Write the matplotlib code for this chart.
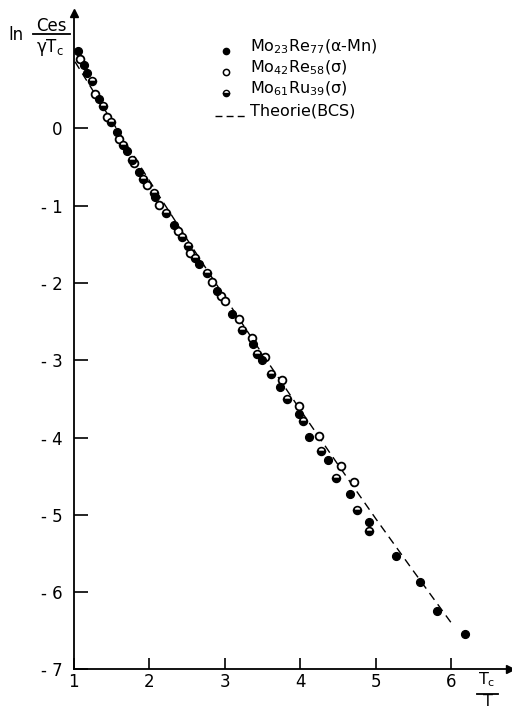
import matplotlib
matplotlib.use("Agg")
import matplotlib.pyplot as plt
from matplotlib.lines import Line2D

plt.rcParams["font.family"] = ["DejaVu Sans"]
plt.rcParams["mathtext.default"] = "regular"

# Mo23Re77 (alpha-Mn), filled circles
x_mo23 = [1.056, 1.139, 1.183, 1.337, 1.571, 1.708, 1.866, 2.074, 2.333, 2.664,
          2.894, 3.101, 3.378, 3.489, 3.728, 3.983, 4.119, 4.370, 4.657, 4.909,
          5.262, 5.587, 5.812, 6.183]
y_mo23 = [1.003, 0.821, 0.722, 0.386, -0.045, -0.291, -0.563, -0.890, -1.248, -1.757,
          -2.102, -2.400, -2.792, -2.995, -3.340, -3.697, -3.995, -4.285, -4.737, -5.087,
          -5.530, -5.876, -6.251, -6.549]

# Mo42Re58 (sigma), open circles
x_mo42 = [1.090, 1.288, 1.447, 1.598, 1.796, 1.968, 2.135, 2.378, 2.545, 2.828,
          2.947, 3.008, 3.185, 3.357, 3.537, 3.754, 3.979, 4.243, 4.542, 4.714]
y_mo42 = [0.895, 0.442, 0.153, -0.140, -0.450, -0.735, -0.994, -1.326, -1.614, -1.982,
          -2.163, -2.232, -2.464, -2.706, -2.952, -3.250, -3.586, -3.978, -4.375, -4.577]

# Mo61Ru39 (sigma), half-filled circles
x_mo61 = [1.245, 1.390, 1.500, 1.659, 1.770, 1.923, 2.065, 2.224, 2.431, 2.515,
          2.607, 2.762, 3.235, 3.434, 3.608, 3.828, 4.040, 4.278, 4.479, 4.746, 4.911]
y_mo61 = [0.611, 0.291, 0.084, -0.210, -0.408, -0.657, -0.838, -1.089, -1.400, -1.520,
          -1.679, -1.873, -2.607, -2.921, -3.172, -3.499, -3.784, -4.172, -4.530, -4.935, -5.207]

# BCS theory curve
x_bcs = [1.02, 1.5, 2.0, 2.5, 3.0, 3.5, 4.0, 4.5, 5.0, 5.5, 6.0]
y_bcs = [0.864, 0.107, -0.67, -1.43, -2.18, -2.92, -3.64, -4.35, -5.05, -5.73, -6.40]

x_ticks = [1, 2, 3, 4, 5, 6]
x_ticklabels = ["1", "2", "3", "4", "5", "6"]
y_ticks = [0, -1, -2, -3, -4, -5, -6, -7]
y_ticklabels = ["0", "- 1", "- 2", "- 3", "- 4", "- 5", "- 6", "- 7"]

legend_labels = [r"Mo$_{23}$Re$_{77}$($\alpha$-Mn)",
                 r"Mo$_{42}$Re$_{58}$($\sigma$)",
                 r"Mo$_{61}$Ru$_{39}$($\sigma$)",
                 "Theorie(BCS)"]

W, H = 512, 710
fig = plt.figure(figsize=(W / 100, H / 100), dpi=100)


def fx(px):
    return px / W


def fy(py):
    return 1 - py / H


ax = fig.add_axes([fx(73.5), fy(669.3), (510 - 73.5) / W, (669.3 - 13) / H])
ax.set_xlim(1, 1 + (510 - 73.5) / 75.56)
ax.set_ylim(-7, -7 + (669.3 - 13) / 77.26)

for s in ["top", "right"]:
    ax.spines[s].set_visible(False)
for s in ["left", "bottom"]:
    ax.spines[s].set_linewidth(1.3)

# arrowheads on both axes
ax.plot([1], [0], marker=">", color="black", markersize=6, transform=ax.transAxes, clip_on=False)
ax.plot([0], [1], marker="^", color="black", markersize=6, transform=ax.transAxes, clip_on=False)

ax.set_xticks(x_ticks)
ax.set_xticklabels(x_ticklabels)
ax.set_yticks(y_ticks)
ax.set_yticklabels(y_ticklabels)
ax.tick_params(axis="y", direction="in", length=10, width=1.2, pad=8, labelsize=12)
ax.tick_params(axis="x", direction="in", length=8, width=1.2, pad=3, labelsize=12)

ax.plot(x_bcs, y_bcs, color="black", lw=1.0, dashes=(6, 4))
ms = 5.6
ax.plot(x_mo42, y_mo42, "o", ms=ms, mfc="white", mec="black", mew=1.3, ls="none")
ax.plot(x_mo61, y_mo61, "o", ms=ms, fillstyle="bottom", mfc="black", mfcalt="white",
        mec="black", mew=1.2, ls="none")
ax.plot(x_mo23, y_mo23, "o", ms=ms, mfc="black", mec="black", ls="none")

# legend entries
rows_y = [47, 68, 89, 111]
styles = [dict(marker="o", mfc="black", mec="black"),
          dict(marker="o", mfc="white", mec="black", mew=1.1),
          dict(marker="o", fillstyle="bottom", mfc="black", mfcalt="white", mec="black", mew=1.0)]
for i, st in enumerate(styles):
    fig.add_artist(Line2D([fx(226)], [fy(rows_y[i] + 4)], ls="none", ms=4.5, **st))
fig.add_artist(Line2D([fx(215), fx(247)], [fy(rows_y[3] + 5)] * 2, color="black",
                      lw=1.0, dashes=(5, 3)))
for i, lab in enumerate(legend_labels):
    fig.text(fx(250), fy(rows_y[i]), lab, fontsize=11.5, va="center", ha="left")

# y-axis label: ln Ces / (gamma Tc)
fig.text(fx(16), fy(35), "ln", fontsize=12, ha="center", va="center")
fig.text(fx(51), fy(26), "Ces", fontsize=12, ha="center", va="center")
fig.add_artist(Line2D([fx(33), fx(70)], [fy(33.5)] * 2, color="black", lw=1.3))
fig.text(fx(50), fy(48), r"$\gamma$T$_c$", fontsize=12, ha="center", va="center")

# x-axis label: Tc / T
fig.text(fx(487), fy(680), r"T$_c$", fontsize=11.5, ha="center", va="center")
fig.add_artist(Line2D([fx(477), fx(498)], [fy(694)] * 2, color="black", lw=1.3))
fig.text(fx(488), fy(701.5), "T", fontsize=11.5, ha="center", va="center")

fig.savefig("out.png", dpi=100)
